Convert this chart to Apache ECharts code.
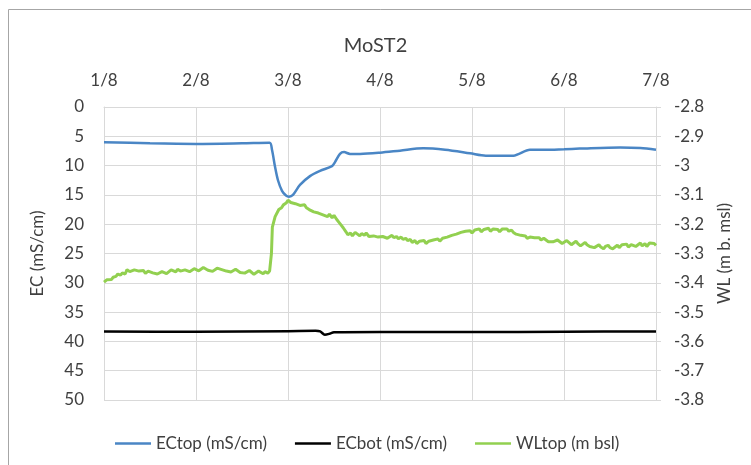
<!DOCTYPE html>
<html>
<head>
<meta charset="utf-8">
<script src="https://cdn.jsdelivr.net/npm/echarts@6/dist/echarts.min.js"></script>
<style>
  html, body { margin: 0; padding: 0; background: #fff; }
  #chart { width: 751px; height: 465px; }
</style>
</head>
<body>
<div id="chart"></div>
<script>
// x values are days since 1/8
var dayLabels = ['1/8', '2/8', '3/8', '4/8', '5/8', '6/8', '7/8'];

var ecTop = [
    [0, 6.0], [0.5, 6.2], [1.0, 6.3], [1.5, 6.2], [1.8, 6.1], [1.826, 7.3],
    [1.859, 10.2], [1.891, 12.5], [1.935, 14.3], [1.978, 15.1], [2.011, 15.3],
    [2.054, 15.0], [2.13, 13.3], [2.239, 11.8], [2.348, 10.9], [2.478, 10.1],
    [2.511, 9.4], [2.565, 8.0], [2.609, 7.7], [2.674, 8.0], [2.783, 8.0],
    [3.0, 7.8], [3.217, 7.45], [3.47, 7.05], [3.707, 7.3], [3.978, 7.9],
    [4.15, 8.3], [4.45, 8.3], [4.63, 7.3], [4.79, 7.3], [5.0, 7.2],
    [5.17, 7.1], [5.61, 6.9], [5.83, 7.0], [6.0, 7.3]
];

var ecBot = [
    [0, 38.3], [1, 38.35], [2, 38.25], [2.3, 38.2], [2.35, 38.3], [2.4, 38.85],
    [2.45, 38.7], [2.5, 38.45], [3, 38.4], [4, 38.4], [5, 38.35], [6, 38.3]
];

var wlTop = [
    [0.00, -3.398], [0.03, -3.390], [0.05, -3.386], [0.08, -3.389], [0.10, -3.381], [0.13, -3.378],
    [0.15, -3.370], [0.18, -3.374], [0.20, -3.366], [0.23, -3.370], [0.25, -3.355], [0.28, -3.362],
    [0.30, -3.366], [0.33, -3.356], [0.35, -3.352], [0.38, -3.360], [0.40, -3.364], [0.43, -3.358],
    [0.45, -3.368], [0.48, -3.360], [0.50, -3.356], [0.53, -3.366], [0.55, -3.362], [0.58, -3.370],
    [0.60, -3.371], [0.63, -3.362], [0.65, -3.360], [0.68, -3.369], [0.70, -3.366], [0.73, -3.356],
    [0.75, -3.360], [0.78, -3.363], [0.80, -3.354], [0.83, -3.360], [0.85, -3.364], [0.88, -3.356],
    [0.90, -3.353], [0.93, -3.362], [0.95, -3.358], [0.98, -3.352], [1.00, -3.350], [1.03, -3.359],
    [1.05, -3.355], [1.08, -3.348], [1.10, -3.351], [1.13, -3.357], [1.15, -3.353], [1.18, -3.361],
    [1.20, -3.356], [1.23, -3.350], [1.25, -3.347], [1.28, -3.355], [1.30, -3.352], [1.33, -3.360],
    [1.35, -3.356], [1.38, -3.363], [1.40, -3.361], [1.43, -3.354], [1.45, -3.357], [1.48, -3.365],
    [1.50, -3.362], [1.53, -3.367], [1.55, -3.364], [1.58, -3.358], [1.60, -3.360], [1.63, -3.371],
    [1.65, -3.366], [1.68, -3.360], [1.70, -3.364], [1.73, -3.369], [1.75, -3.362], [1.78, -3.367],
    [1.80, -3.360], [1.82, -3.300], [1.83, -3.210], [1.86, -3.174],
    [1.90, -3.150], [1.93, -3.144], [1.95, -3.134], [1.98, -3.128], [2.00, -3.118], [2.03, -3.126],
    [2.05, -3.120], [2.08, -3.130], [2.10, -3.124], [2.13, -3.136], [2.15, -3.140], [2.18, -3.134],
    [2.20, -3.144], [2.23, -3.150], [2.25, -3.146], [2.28, -3.158], [2.30, -3.152], [2.33, -3.162],
    [2.35, -3.158], [2.38, -3.168], [2.40, -3.162], [2.43, -3.174], [2.45, -3.166], [2.48, -3.178],
    [2.50, -3.170], [2.53, -3.184], [2.55, -3.192], [2.58, -3.204], [2.60, -3.212], [2.63, -3.226],
    [2.65, -3.236], [2.68, -3.230], [2.70, -3.240], [2.73, -3.228], [2.75, -3.232], [2.78, -3.240],
    [2.80, -3.232], [2.83, -3.238], [2.85, -3.230], [2.88, -3.242], [2.90, -3.236], [2.93, -3.240],
    [2.95, -3.234], [2.98, -3.244], [3.00, -3.238], [3.03, -3.242], [3.05, -3.236], [3.08, -3.248],
    [3.10, -3.242], [3.13, -3.238], [3.15, -3.246], [3.18, -3.242], [3.20, -3.250], [3.23, -3.244],
    [3.25, -3.252], [3.28, -3.248], [3.30, -3.256], [3.33, -3.252], [3.35, -3.262], [3.38, -3.256],
    [3.40, -3.266], [3.43, -3.258], [3.45, -3.262], [3.48, -3.256], [3.50, -3.266], [3.53, -3.258],
    [3.55, -3.262], [3.58, -3.254], [3.60, -3.258], [3.63, -3.250], [3.65, -3.258], [3.68, -3.248],
    [3.70, -3.254], [3.73, -3.244], [3.75, -3.248], [3.78, -3.238], [3.80, -3.244], [3.83, -3.234],
    [3.85, -3.238], [3.88, -3.228], [3.90, -3.234], [3.93, -3.224], [3.95, -3.230], [3.98, -3.222],
    [4.00, -3.230], [4.03, -3.220], [4.05, -3.226], [4.08, -3.216], [4.10, -3.226], [4.13, -3.218],
    [4.15, -3.222], [4.18, -3.214], [4.20, -3.224], [4.23, -3.216], [4.25, -3.222], [4.28, -3.218],
    [4.30, -3.226], [4.33, -3.216], [4.35, -3.220], [4.38, -3.216], [4.40, -3.224], [4.43, -3.220],
    [4.45, -3.228], [4.48, -3.234], [4.50, -3.240], [4.53, -3.238], [4.55, -3.244], [4.58, -3.240],
    [4.60, -3.248], [4.63, -3.244], [4.65, -3.250], [4.68, -3.246], [4.70, -3.252], [4.73, -3.246],
    [4.75, -3.254], [4.78, -3.248], [4.80, -3.252], [4.83, -3.260], [4.85, -3.254], [4.88, -3.260],
    [4.90, -3.264], [4.93, -3.254], [4.95, -3.258], [4.98, -3.266], [5.00, -3.262], [5.03, -3.256],
    [5.05, -3.262], [5.08, -3.270], [5.10, -3.264], [5.13, -3.258], [5.15, -3.266], [5.18, -3.274],
    [5.20, -3.268], [5.23, -3.262], [5.25, -3.270], [5.28, -3.276], [5.30, -3.272], [5.33, -3.280],
    [5.35, -3.274], [5.38, -3.270], [5.40, -3.278], [5.43, -3.284], [5.45, -3.276], [5.48, -3.272],
    [5.50, -3.280], [5.53, -3.284], [5.55, -3.278], [5.58, -3.272], [5.60, -3.280], [5.63, -3.270],
    [5.65, -3.276], [5.68, -3.268], [5.70, -3.278], [5.73, -3.270], [5.75, -3.266], [5.78, -3.276],
    [5.80, -3.270], [5.83, -3.264], [5.85, -3.274], [5.88, -3.266], [5.90, -3.276], [5.93, -3.264],
    [5.95, -3.270], [5.98, -3.266], [6.00, -3.272]
];

var textColor = '#404040';
var gridColor = '#d9d9d9';
var font = 'Lato, Open Sans, sans-serif';

var myChart = echarts.init(document.getElementById('chart'), null, {width: 751, height: 465});
var option = {
    animation: false,
    backgroundColor: '#fff',
    textStyle: {fontFamily: font, color: textColor},
    graphic: [
        {
            type: 'rect',
            shape: {x: 8.5, y: 9.5, width: 760, height: 470},
            style: {fill: 'none', stroke: '#a6a6a6', lineWidth: 1},
            silent: true
        }
    ],
    title: {
        text: 'MoST2',
        left: 'center',
        top: 31,
        textStyle: {fontSize: 20, fontWeight: 'normal', color: textColor, fontFamily: font}
    },
    legend: {
        data: ['ECtop (mS/cm)', 'ECbot (mS/cm)', 'WLtop (m bsl)'],
        icon: 'rect',
        left: 110,
        top: 430,
        itemWidth: 36,
        itemHeight: 2.5,
        itemGap: 28,
        textStyle: {fontSize: 17, color: textColor, fontFamily: font}
    },
    grid: {left: 104, right: 95, top: 107, bottom: 65, containLabel: false},
    xAxis: {
        type: 'value',
        position: 'top',
        min: 0,
        max: 6,
        interval: 1,
        axisLine: {show: true, lineStyle: {color: gridColor}},
        axisTick: {show: false},
        axisLabel: {
            fontSize: 17,
            color: textColor,
            margin: 18,
            formatter: function (v) {
                return dayLabels[Math.round(v)];
            }
        },
        splitLine: {show: true, lineStyle: {color: gridColor, width: 1}}
    },
    yAxis: [
        {
            type: 'value',
            name: 'EC (mS/cm)',
            nameLocation: 'middle',
            nameGap: 58,
            nameTextStyle: {fontSize: 17, color: textColor},
            inverse: true,
            min: 0,
            max: 50,
            interval: 5,
            axisLine: {show: true, lineStyle: {color: gridColor}},
            axisTick: {show: false},
            axisLabel: {fontSize: 17, color: textColor, margin: 20},
            splitLine: {show: true, lineStyle: {color: gridColor, width: 1}}
        },
        {
            type: 'value',
            name: 'WL (m b. msl)',
            nameLocation: 'middle',
            nameGap: 60,
            nameTextStyle: {fontSize: 17, color: textColor},
            position: 'right',
            min: -3.8,
            max: -2.8,
            interval: 0.1,
            axisLine: {show: true, lineStyle: {color: gridColor}},
            axisTick: {show: true, length: 5, lineStyle: {color: gridColor}},
            axisLabel: {
                fontSize: 17,
                color: textColor,
                margin: 18,
                formatter: function (v) {
                    return String(parseFloat(v.toFixed(1)));
                }
            },
            splitLine: {show: false}
        }
    ],
    series: [
        {
            name: 'ECtop (mS/cm)',
            type: 'line',
            yAxisIndex: 0,
            symbol: 'none',
            smooth: 0.3,
            lineStyle: {color: '#4a86c5', width: 2.5},
            itemStyle: {color: '#4a86c5'},
            data: ecTop,
            z: 3
        },
        {
            name: 'ECbot (mS/cm)',
            type: 'line',
            yAxisIndex: 0,
            symbol: 'none',
            smooth: 0.3,
            lineStyle: {color: '#000000', width: 2.5},
            itemStyle: {color: '#000000'},
            data: ecBot,
            z: 3
        },
        {
            name: 'WLtop (m bsl)',
            type: 'line',
            yAxisIndex: 1,
            symbol: 'none',
            lineStyle: {color: '#92d050', width: 3},
            itemStyle: {color: '#92d050'},
            data: wlTop,
            z: 2
        }
    ]
};
myChart.setOption(option, false);
</script>
</body>
</html>
